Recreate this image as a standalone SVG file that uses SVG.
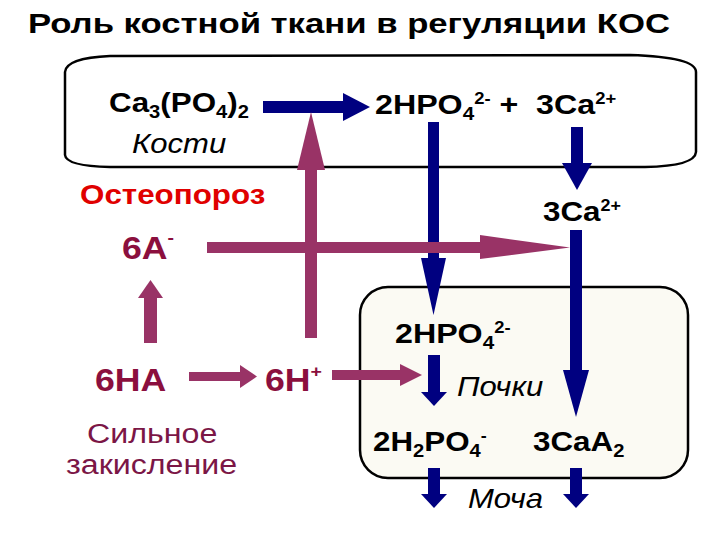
<svg xmlns="http://www.w3.org/2000/svg" width="720" height="540" viewBox="0 0 720 540">
<style>
text{font-family:"Liberation Sans",Arial,sans-serif}
.t{font-weight:bold;fill:#000;font-size:28px}
.i{font-style:italic;fill:#000;font-size:27px}
.m{fill:#8b0f3e;font-size:31px}
.r{font-size:28px;fill:#7b1646}
.sb{font-size:18px}
.sp{font-size:16px}
.box{stroke:#000;stroke-width:2.5}
.nv{fill:#000080}
.pu{fill:#993366}
</style>
<rect width="720" height="540" fill="#fff"/>
<text x="28" y="33" font-size="28" font-weight="bold" textLength="642" lengthAdjust="spacingAndGlyphs">Роль костной ткани в регуляции КОС</text>
<g id="bones">
<path class="box" fill="#fff" d="M65,72 Q66,58 110,56 L630,55 Q696,57 696,72 L696,152 Q695,166 645,167 L110,167 Q66,166 65,155 Z"/>
<text class="t" transform="translate(109,112) scale(1.12,1)">Ca<tspan class="sb" dy="6">3</tspan><tspan dy="-6">(PO</tspan><tspan class="sb" dy="6">4</tspan><tspan dy="-6">)</tspan><tspan class="sb" dy="6">2</tspan></text>
<text class="i" transform="translate(132,153) scale(1.15,1)">Кости</text>
<text class="t" transform="translate(375,114) scale(1.15,1)" xml:space="preserve">2HPO<tspan class="sb" dy="6">4</tspan><tspan class="sp" dy="-16">2-</tspan><tspan dy="10"> +  3Ca</tspan><tspan class="sp" dy="-10">2+</tspan></text>
</g>
<g id="kidneys">
<rect class="box" fill="#fbfaf3" x="360" y="287" width="328" height="191" rx="28"/>
<text class="t" transform="translate(395,343) scale(1.15,1)">2HPO<tspan class="sb" dy="6">4</tspan><tspan class="sp" dy="-16">2-</tspan></text>
<text class="i" transform="translate(457,396) scale(1.15,1)">Почки</text>
<text class="t" transform="translate(373,451) scale(1.12,1)">2H<tspan class="sb" dy="6">2</tspan><tspan dy="-6">PO</tspan><tspan class="sb" dy="6">4</tspan><tspan class="sp" dy="-16">-</tspan></text>
<text class="t" transform="translate(533,451) scale(1.12,1)">3CaA<tspan class="sb" dy="6">2</tspan></text>
</g>
<g id="osteoporosis"><text class="t" transform="translate(80,204) scale(1.12,1)" style="fill:#e00000">Остеопороз</text></g>
<g id="ca-blood"><text class="t" transform="translate(543,221) scale(1.12,1)">3Ca<tspan class="sp" dy="-10">2+</tspan></text></g>
<g id="a-minus"><text class="t m" transform="translate(122,259) scale(1.15,1)">6A<tspan font-size="17" dy="-16">-</tspan></text></g>
<g id="ha"><text class="t m" transform="translate(95,391) scale(1.15,1)">6HA</text></g>
<g id="h-plus"><text class="t m" transform="translate(265,391) scale(1.15,1)">6H<tspan font-size="17" dy="-14">+</tspan></text></g>
<g id="acidification">
<text class="r" transform="translate(87,443) scale(1.15,1)">Сильное</text>
<text class="r" transform="translate(66,474) scale(1.15,1)">закисление</text>
</g>
<g id="urine"><text class="i" transform="translate(468,508) scale(1.15,1)">Моча</text></g>
<g id="connectors">
<rect class="nv" x="263" y="101" width="82" height="12"/>
<polygon class="nv" points="343,93 370,107 343,121"/>
<rect class="nv" x="428" y="122" width="11" height="138"/>
<polygon class="nv" points="421,258 446,258 433.5,315"/>
<rect class="nv" x="571" y="127" width="12" height="38"/>
<polygon class="nv" points="562,163 592,163 577,190"/>
<rect class="nv" x="570" y="230" width="12" height="142"/>
<polygon class="nv" points="563,370 589,370 576,417"/>
<rect class="nv" x="428" y="355" width="12" height="38"/>
<polygon class="nv" points="421,392 447,392 434,406"/>
<rect class="nv" x="428" y="468" width="12" height="27"/>
<polygon class="nv" points="421,494 447,494 434,508"/>
<rect class="nv" x="570" y="468" width="12" height="27"/>
<polygon class="nv" points="563,494 589,494 576,508"/>
<rect class="pu" x="207" y="242" width="275" height="11"/>
<polygon class="pu" points="480,235 570,247.5 480,259"/>
<rect class="pu" x="305" y="168" width="12" height="170"/>
<polygon class="pu" points="297,170 325,170 311,112"/>
<rect class="pu" x="144" y="296" width="13" height="47"/>
<polygon class="pu" points="138,298 163,298 150.5,280"/>
<rect class="pu" x="189" y="372" width="53" height="9"/>
<polygon class="pu" points="240,365 257,376.5 240,388"/>
<rect class="pu" x="332" y="370" width="70" height="10"/>
<polygon class="pu" points="400,364 422,375 400,386"/>
</g>
</svg>
